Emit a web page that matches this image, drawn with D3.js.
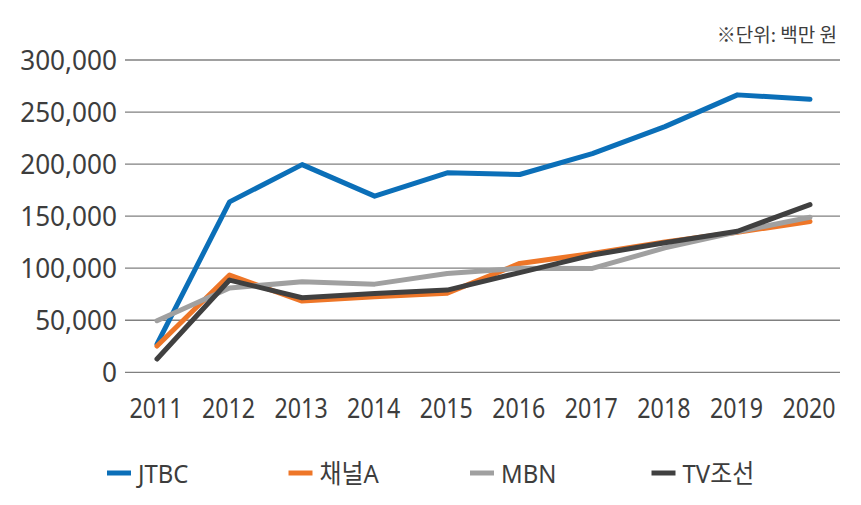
<!DOCTYPE html>
<html>
<head>
<meta charset="utf-8">
<script src="https://cdn.jsdelivr.net/npm/d3@7"></script>
<style>
  html, body { margin:0; padding:0; background:#fff; }
  svg { display:block; }
  .ylab { font-family:"Noto Sans","Noto Sans CJK KR",sans-serif; font-size:27px; fill:#3d3d3d; }
  .xlab { font-family:"Noto Sans","Noto Sans CJK KR",sans-serif; font-size:27px; fill:#3d3d3d; }
  .leg  { font-family:"Noto Sans","Noto Sans CJK KR",sans-serif; font-size:26px; fill:#3d3d3d; }
  .unit { font-family:"Noto Sans CJK KR",sans-serif; font-size:19px; fill:#3d3d3d; }
</style>
</head>
<body>
<svg id="chart" width="861" height="505"></svg>
<script>
// --- Data (백만 원) ---
const years = [2011, 2012, 2013, 2014, 2015, 2016, 2017, 2018, 2019, 2020];
const seriesNames = ["JTBC", "채널A", "MBN", "TV조선"];
const jtbc   = [27000, 163700, 199500, 169200, 191600, 190000, 210000, 236000, 266500, 262300];
const chA    = [25200,  93400,  68400,  72500,  76000, 104600, 114200, 125300, 134500, 144900];
const mbn    = [49500,  81000,  87000,  84700,  95000, 100000,  99800, 119500, 135000, 149000];
const tvchos = [12800,  88600,  71600,  75800,  79000,  95800, 112600, 124500, 135500, 161000];
const yTicks = [0, 50000, 100000, 150000, 200000, 250000, 300000];
const colors = ["#0b6fb8", "#ee7628", "#a0a0a0", "#404040"];
const unitText = "※단위: 백만 원";

const seriesVals = [jtbc, chA, mbn, tvchos];

// --- SVG ---
const svg = d3.select("#chart");
const plotL = 125, plotR = 840;
const x = d3.scalePoint().domain(years).range([157, 810]);
const y = d3.scaleLinear().domain([0, 300000]).range([372.3, 60]);

// gridlines
svg.append("g").selectAll("line").data(yTicks).enter().append("line")
  .attr("x1", plotL).attr("x2", plotR)
  .attr("y1", d=>y(d)).attr("y2", d=>y(d))
  .attr("stroke", "#808080").attr("stroke-width", 1.3);

// y axis labels
const fmt = d3.format(",");
svg.append("g").selectAll("text").data(yTicks).enter().append("text")
  .attr("class","ylab")
  .attr("transform", d=>`translate(117,${y(d)}) scale(0.97,1)`)
  .attr("text-anchor","end").attr("dominant-baseline","central")
  .text(d=>fmt(d));

// x axis labels (slightly condensed like the source font)
svg.append("g").selectAll("text").data(years).enter().append("text")
  .attr("class","xlab")
  .attr("transform", d=>`translate(${x(d) - 1},418) scale(0.86,1)`)
  .attr("text-anchor","middle")
  .text(d=>d);

// lines
const line = d3.line().x((d,i)=>x(years[i])).y(d=>y(d));
svg.append("g").selectAll("path").data(seriesVals).enter().append("path")
  .attr("d", d=>line(d))
  .attr("fill","none")
  .attr("stroke", (d,i)=>colors[i])
  .attr("stroke-width", 5)
  .attr("stroke-linejoin","round")
  .attr("stroke-linecap","round");

// unit label
svg.append("text").attr("class","unit")
  .attr("x", 837).attr("y", 42).attr("text-anchor","end")
  .text(unitText);

// legend
const leg = svg.append("g").selectAll("g").data(seriesNames).enter().append("g")
  .attr("transform", (d,i)=>`translate(${107 + i*181.5},473)`);
leg.append("line")
  .attr("x1", 0).attr("x2", 24).attr("y1", 0).attr("y2", 0)
  .attr("stroke", (d,i)=>colors[i]).attr("stroke-width", 5);
leg.append("text").attr("class","leg")
  .attr("transform", "translate(31,9.5) scale(0.92,1)")
  .text(d=>d);
</script>
</body>
</html>
